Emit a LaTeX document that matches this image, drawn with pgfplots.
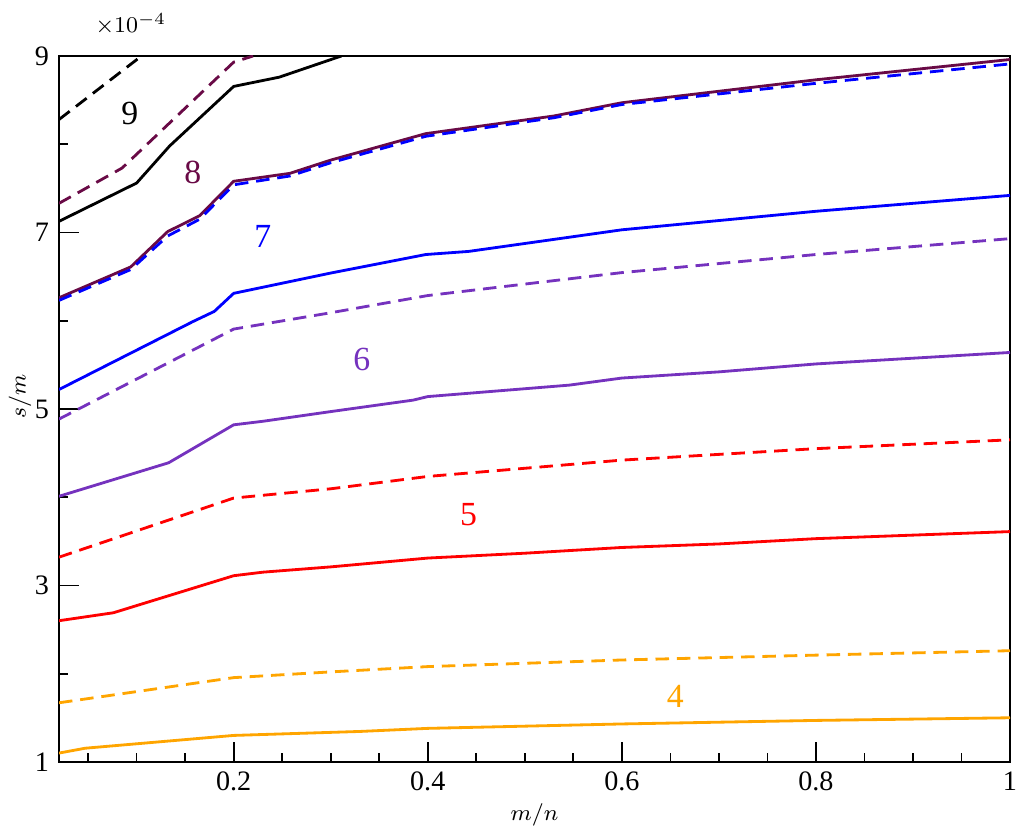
\documentclass[border=0pt]{standalone}
\usepackage{fontspec}
\setmainfont{Liberation Serif}
\usepackage{pgfplots}
\pgfplotsset{compat=1.18}
\definecolor{cOrange}{RGB}{255,165,0}
\definecolor{cRed}{RGB}{255,0,0}
\definecolor{cPurple}{RGB}{117,50,190}
\definecolor{cBlue}{RGB}{0,0,255}
\definecolor{cMaroon}{RGB}{105,10,70}
\begin{document}
\begin{tikzpicture}
\begin{axis}[
  width=338pt, height=250.9pt, scale only axis,
  xmin=0.02, xmax=1, ymin=1e-4, ymax=9e-4,
  xtick={0.2,0.4,0.6,0.8,1}, xticklabels={0.2,0.4,0.6,0.8,1},
  minor xtick={0.05,0.1,0.15,0.25,0.3,0.35,0.45,0.5,0.55,0.65,0.7,0.75,0.85,0.9,0.95},
  ytick={1e-4,3e-4,5e-4,7e-4,9e-4}, yticklabels={1,3,5,7,9},
  minor ytick={2e-4,4e-4,6e-4,8e-4},
  scaled y ticks=false, scaled x ticks=false,
  tick pos=left, tick align=inside,
  major tick length=7pt, minor tick length=3.3pt,
  every tick/.style={black, line width=0.6pt},
  axis line style={line width=0.8pt},
  xlabel={$m/n$}, ylabel={$s/m$},
  label style={font=\footnotesize, inner sep=0pt},
  xlabel style={at={([yshift=-18.8pt]axis description cs:0.5,0)}, anchor=center},
  ylabel style={at={([xshift=-13.9pt]axis description cs:0,0.518)}, anchor=center},
  clip mode=individual,
  every axis plot/.append style={line width=1pt},
]
\coordinate (LL) at (rel axis cs:0,0);
\coordinate (UR) at (rel axis cs:1,1);
% 4
\addplot[cOrange] coordinates {(0.02,1.10e-4) (0.047,1.155e-4) (0.2,1.30e-4) (0.33,1.345e-4) (0.40,1.38e-4) (0.50,1.405e-4) (0.60,1.43e-4) (0.70,1.45e-4) (0.80,1.47e-4) (1.0,1.50e-4)};
\addplot[cOrange, dash pattern=on 4.8pt off 2.8pt] coordinates {(0.02,1.67e-4) (0.2,1.955e-4) (0.30,2.02e-4) (0.40,2.08e-4) (0.60,2.155e-4) (0.80,2.21e-4) (1.0,2.26e-4)};
% 5
\addplot[cRed] coordinates {(0.02,2.60e-4) (0.076,2.69e-4) (0.2,3.11e-4) (0.23,3.15e-4) (0.30,3.21e-4) (0.40,3.31e-4) (0.50,3.365e-4) (0.60,3.43e-4) (0.70,3.47e-4) (0.80,3.53e-4) (1.0,3.61e-4)};
\addplot[cRed, dash pattern=on 4.8pt off 2.8pt] coordinates {(0.02,3.32e-4) (0.2,3.99e-4) (0.30,4.095e-4) (0.40,4.235e-4) (0.60,4.42e-4) (0.80,4.55e-4) (1.0,4.65e-4)};
% 6
\addplot[cPurple] coordinates {(0.02,4.01e-4) (0.133,4.39e-4) (0.2,4.82e-4) (0.23,4.86e-4) (0.30,4.97e-4) (0.385,5.10e-4) (0.40,5.14e-4) (0.546,5.27e-4) (0.60,5.35e-4) (0.70,5.42e-4) (0.80,5.51e-4) (1.0,5.64e-4)};
\addplot[cPurple, dash pattern=on 4.8pt off 2.8pt] coordinates {(0.02,4.885e-4) (0.2,5.905e-4) (0.30,6.09e-4) (0.40,6.285e-4) (0.60,6.545e-4) (0.80,6.75e-4) (1.0,6.93e-4)};
% 7
\addplot[cBlue] coordinates {(0.02,5.22e-4) (0.158,5.99e-4) (0.18,6.105e-4) (0.2,6.31e-4) (0.30,6.54e-4) (0.398,6.75e-4) (0.442,6.785e-4) (0.60,7.03e-4) (0.80,7.24e-4) (1.0,7.42e-4)};
% 8
\addplot[cMaroon] coordinates {(0.02,6.26e-4) (0.094,6.61e-4) (0.132,7.01e-4) (0.165,7.19e-4) (0.2,7.58e-4) (0.258,7.67e-4) (0.30,7.82e-4) (0.398,8.12e-4) (0.53,8.32e-4) (0.60,8.47e-4) (0.80,8.73e-4) (1.0,8.96e-4)};
\addplot[cBlue, dash pattern=on 4.8pt off 2.8pt] coordinates {(0.02,6.23e-4) (0.094,6.58e-4) (0.132,6.96e-4) (0.165,7.15e-4) (0.2,7.54e-4) (0.258,7.64e-4) (0.30,7.79e-4) (0.398,8.09e-4) (0.53,8.30e-4) (0.60,8.45e-4) (0.80,8.69e-4) (1.0,8.91e-4)};
\addplot[cMaroon, dash pattern=on 4.8pt off 2.8pt] coordinates {(0.02,7.33e-4) (0.085,7.73e-4) (0.2,8.93e-4) (0.22,9.0e-4)};
% 9
\addplot[black] coordinates {(0.02,7.126e-4) (0.100,7.56e-4) (0.134,7.98e-4) (0.2,8.655e-4) (0.247,8.76e-4) (0.311,9.0e-4)};
\addplot[black, dash pattern=on 4.8pt off 2.8pt] coordinates {(0.02,8.28e-4) (0.105,9.0e-4)};
% labels
\node[font=\large, text=black] at (axis cs:0.093,8.35e-4) {9};
\node[font=\large, text=cMaroon] at (axis cs:0.158,7.68e-4) {8};
\node[font=\large, text=cBlue] at (axis cs:0.23,6.955e-4) {7};
\node[font=\large, text=cPurple] at (axis cs:0.332,5.56e-4) {6};
\node[font=\large, text=cRed] at (axis cs:0.442,3.80e-4) {5};
\node[font=\large, text=cOrange] at (axis cs:0.655,1.74e-4) {4};
\node[font=\footnotesize, anchor=base west, inner sep=0pt] at ([xshift=12.8pt, yshift=8.5pt]rel axis cs:0,1) {$\times10^{-4}$};
\end{axis}
\pgfresetboundingbox
\path ([xshift=-20.97pt,yshift=-23.46pt]LL) rectangle ([xshift=4.62pt,yshift=19.9pt]UR);
\end{tikzpicture}
\end{document}
